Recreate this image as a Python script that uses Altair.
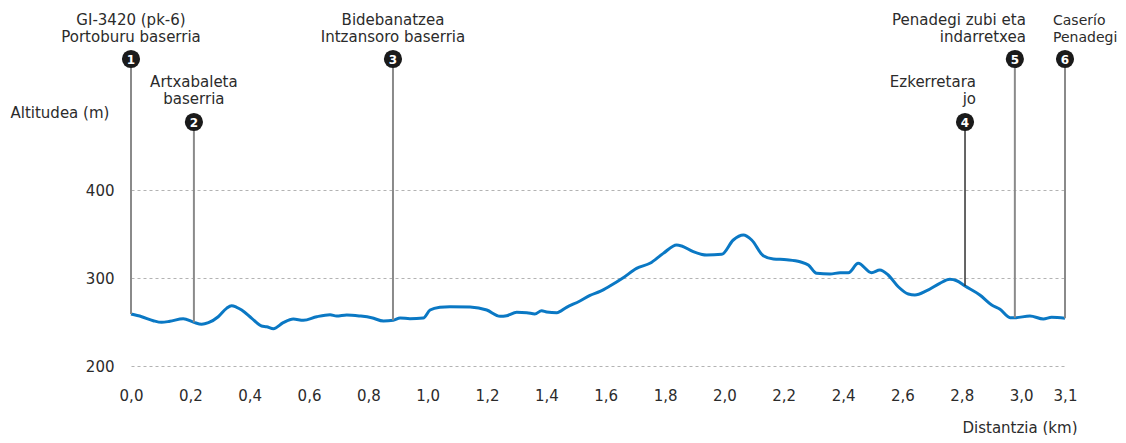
import altair as alt
import pandas as pd

# Elevation profile (distance km, altitude m)
dist = [0.000, 0.036, 0.075, 0.103, 0.131, 0.176, 0.212, 0.238, 0.261, 0.294,
        0.322, 0.339, 0.356, 0.373, 0.407, 0.440, 0.457, 0.480, 0.513, 0.547,
        0.581, 0.626, 0.671, 0.693, 0.727, 0.772, 0.811, 0.851, 0.884, 0.907,
        0.940, 0.985, 1.008, 1.041, 1.075, 1.143, 1.199, 1.244, 1.266, 1.300,
        1.334, 1.361, 1.384, 1.401, 1.435, 1.468, 1.513, 1.547, 1.581, 1.614,
        1.659, 1.704, 1.749, 1.794, 1.839, 1.856, 1.895, 1.940, 1.991, 2.030,
        2.064, 2.092, 2.131, 2.165, 2.210, 2.255, 2.283, 2.311, 2.356, 2.390,
        2.418, 2.451, 2.496, 2.524, 2.552, 2.586, 2.620, 2.642, 2.682, 2.726,
        2.760, 2.783, 2.811, 2.861, 2.901, 2.929, 2.963, 2.979, 3.030, 3.075,
        3.103, 3.148]
elev = [259.0, 256.0, 251.5, 249.6, 250.8, 253.8, 249.6, 247.4, 249.2, 256.0,
        265.5, 268.5, 266.7, 263.6, 254.2, 245.5, 244.7, 242.4, 249.2, 253.4,
        251.9, 256.0, 258.3, 256.8, 258.0, 256.8, 254.9, 251.1, 251.9, 254.5,
        253.8, 254.5, 263.6, 266.7, 267.4, 267.0, 263.6, 256.5, 257.2, 261.0,
        260.6, 259.1, 262.8, 261.4, 260.6, 266.7, 273.9, 280.3, 284.8, 290.9,
        300.3, 311.0, 316.7, 328.0, 337.5, 336.4, 329.9, 326.1, 326.9, 343.2,
        348.9, 343.2, 325.3, 321.6, 320.8, 318.5, 314.8, 305.3, 304.5, 306.0,
        306.0, 316.7, 306.0, 309.0, 303.4, 290.1, 281.8, 280.7, 285.6, 294.0,
        298.5, 296.9, 290.9, 280.7, 269.3, 264.4, 254.9, 254.9, 256.8, 253.4,
        255.3, 254.2]

# Waypoints
marker_num = ["1", "2", "3", "4", "5", "6"]
marker_dist = [0.0, 0.212, 0.883, 2.811, 2.979, 3.148]
marker_elev = [259.0, 249.6, 252.0, 290.9, 254.9, 254.2]
marker_row = ["top", "low", "top", "low", "top", "top"]
marker_label = ["GI-3420 (pk-6)\nPortoburu baserria",
                "Artxabaleta\nbaserria",
                "Bidebanatzea\nIntzansoro baserria",
                "Ezkerretara\njo",
                "Penadegi zubi eta\nindarretxea",
                "Caserío\nPenadegi"]
label_align = ["center", "center", "center", "right", "right", "left"]
rule_kind = ["gray", "gray", "gray", "dark", "gray", "gray"]

x_ticks = [0.0, 0.2, 0.4, 0.6, 0.8, 1.0, 1.2, 1.4, 1.6, 1.8, 2.0, 2.2, 2.4,
           2.6, 2.8, 3.0, 3.148]
y_ticks = [200, 300, 400]

profile = pd.DataFrame({"d": dist, "e": elev})
markers = pd.DataFrame({"num": marker_num, "d": marker_dist, "e": marker_elev,
                        "row": marker_row, "label": marker_label,
                        "align": label_align, "kind": rule_kind})

FONT = "DejaVu Sans"
TXT = "#2b2b2b"
xscale = alt.Scale(domain=[0, 3.148], nice=False, zero=False)
yscale = alt.Scale(domain=[200, 548.9], nice=False, zero=False)

ROW_Y = {"top": 0, "low": 63}
LABEL_Y = {"top": -34, "low": 28}

line = alt.Chart(profile).mark_line(
    color="#0a78c4", strokeWidth=3, interpolate="monotone"
).encode(
    x=alt.X("d:Q", scale=xscale,
            axis=alt.Axis(values=x_ticks, grid=False, domain=False, ticks=False,
                          labelExpr="replace(format(datum.value, '.1f'), '.', ',')",
                          labelFont=FONT, labelFontSize=15, labelColor=TXT,
                          labelPadding=22, labelFlush=False, labelOverlap=False,
                          title="Distantzia (km)", titleFont=FONT, titleFontSize=15,
                          titleFontWeight="normal", titleColor=TXT,
                          titleAnchor="start", titleAlign="right", titleX=946,
                          titleY=66, titleBaseline="alphabetic")),
    y=alt.Y("e:Q", scale=yscale,
            axis=alt.Axis(values=y_ticks, grid=True, gridDash=[3, 3],
                          gridColor="#b3b3b3", gridWidth=1, domain=False,
                          ticks=False, labelFont=FONT, labelFontSize=15,
                          labelColor=TXT, labelPadding=17,
                          title="Altitudea (m)", titleFont=FONT, titleFontSize=15,
                          titleFontWeight="normal", titleColor=TXT,
                          titleAngle=0, titleAlign="left", titleBaseline="alphabetic",
                          titleX=-121, titleY=58))
)

layers = [line]
for row, ypx in ROW_Y.items():
    for kind, col, w in [("gray", "#8a8a8a", 2), ("dark", "#333333", 1.5)]:
        layers.append(
            alt.Chart(markers).transform_filter(
                f"datum.row == '{row}' && datum.kind == '{kind}'"
            ).mark_rule(color=col, strokeWidth=w).encode(
                x=alt.X("d:Q", scale=xscale),
                y=alt.Y("e:Q", scale=yscale),
                y2=alt.value(ypx))
        )
for row, ypx in ROW_Y.items():
    base = alt.Chart(markers).transform_filter(f"datum.row == '{row}'")
    layers.append(base.mark_circle(size=330, color="#1a1a1a", opacity=1).encode(
        x=alt.X("d:Q", scale=xscale), y=alt.value(ypx)))
    layers.append(base.mark_text(color="white", fontWeight="bold", fontSize=12,
                                 font=FONT, baseline="middle", align="center").encode(
        x=alt.X("d:Q", scale=xscale), y=alt.value(ypx + 0.5), text="num:N"))

# (align, dx, font size)
STY = {"center": (0, 15), "right": (11, 15), "left": (-12, 14)}
for row, ypx in LABEL_Y.items():
    for al, (dx, fs) in STY.items():
        layers.append(
            alt.Chart(markers).transform_filter(
                f"datum.row == '{row}' && datum.align == '{al}'"
            ).mark_text(font=FONT, fontSize=fs, color=TXT, align=al,
                        baseline="alphabetic", lineBreak="\n", lineHeight=17,
                        dx=dx).encode(
                x=alt.X("d:Q", scale=xscale), y=alt.value(ypx), text="label:N")
        )

chart = alt.layer(*layers).properties(
    width=934, height=307,
    autosize=alt.AutoSizeParams(type="none"),
    padding={"left": 123, "top": 51, "right": 52, "bottom": 69},
    background="white",
).configure_view(stroke=None)

chart.save("out.html", embed_options={"renderer": "svg", "actions": False})
